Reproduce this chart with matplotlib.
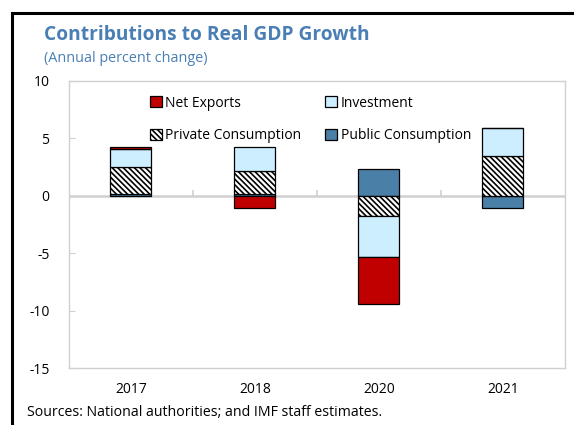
import numpy as np
import matplotlib.pyplot as plt
from matplotlib.lines import Line2D

plt.rcParams['font.family'] = ['Open Sans', 'DejaVu Sans']
plt.rcParams['hatch.linewidth'] = 1.2

# data (percentage points)
years = ['2017', '2018', '2020', '2021']
public_cons = [0.12, 0.15, 2.3, -1.1]
private_cons = [2.35, 2.0, -1.75, 3.45]
investment = [1.55, 2.05, -3.6, 2.4]
net_exports = [0.2, -1.1, -4.1, 0.0]

series = [
    ('Public Consumption', public_cons, dict(color='#4a7fa8', hatch=None)),
    ('Private Consumption', private_cons, dict(color='white', hatch='\\' * 6)),
    ('Investment', investment, dict(color='#cceeff', hatch=None)),
    ('Net Exports', net_exports, dict(color='#c00000', hatch=None)),
]

title_col = '#4a7fb5'
grey = '#d0d0d0'

fig = plt.figure(figsize=(5.74, 4.25), dpi=100)
ax = fig.add_axes([0.120, 0.134, 0.864, 0.676])

x = np.arange(len(years))
pos_base = np.zeros(len(years))
neg_base = np.zeros(len(years))
handles = {}
for name, vals, st in series:
    v = np.array(vals)
    bottom = np.where(v >= 0, pos_base, neg_base)
    bars = ax.bar(x, v, width=0.33, bottom=bottom, color=st['color'],
                  hatch=st['hatch'], edgecolor='black', linewidth=0.9, zorder=3)
    handles[name] = bars
    pos_base = pos_base + np.where(v > 0, v, 0)
    neg_base = neg_base + np.where(v < 0, v, 0)

ax.set_xlim(-0.5, len(years) - 0.5)
ax.set_ylim(-15, 10)
ax.set_yticks([10, 5, 0, -5, -10, -15])
ax.set_yticklabels(['10', '5', '0', '-5', '-10', '-15'])
ax.set_xticks(x)
ax.set_xticklabels(years)
ax.tick_params(axis='x', length=0, pad=10, labelsize=10)
ax.tick_params(axis='y', direction='in', length=4, color=grey, pad=14, labelsize=10)

for s in ax.spines.values():
    s.set_color(grey)
    s.set_linewidth(1.0)

# zero line with category separators
ax.axhline(0, color=grey, lw=1.8, zorder=2)
ax.vlines(x[:-1] + 0.5, 0, 0.45, color=grey, lw=1.2, zorder=2)

order = ['Net Exports', 'Private Consumption', 'Investment', 'Public Consumption']
ax.legend([handles[n] for n in order], order, ncol=2, frameon=False,
          loc='upper left', bbox_to_anchor=(0.150, 0.972), borderpad=0,
          fontsize=10, handlelength=0.85, handleheight=0.85,
          handletextpad=0.25, labelspacing=1.25, columnspacing=1.7)

fig.text(0.077, 0.907, 'Contributions to Real GDP Growth', color=title_col,
         fontsize=13.8, fontweight='bold', va='baseline')
fig.text(0.077, 0.853, '(Annual percent change)', color=title_col,
         fontsize=10.4, va='baseline')
fig.text(0.047, 0.022, 'Sources: National authorities; and IMF staff estimates.',
         fontsize=10.2, va='baseline')

# outer frame (top and left)
fig.add_artist(Line2D([0.021, 0.998], [0.969, 0.969], color='black', lw=2.2))
fig.add_artist(Line2D([0.021, 0.021], [0.969, 0.0], color='black', lw=2.2))

fig.savefig('out.png', dpi=100)
